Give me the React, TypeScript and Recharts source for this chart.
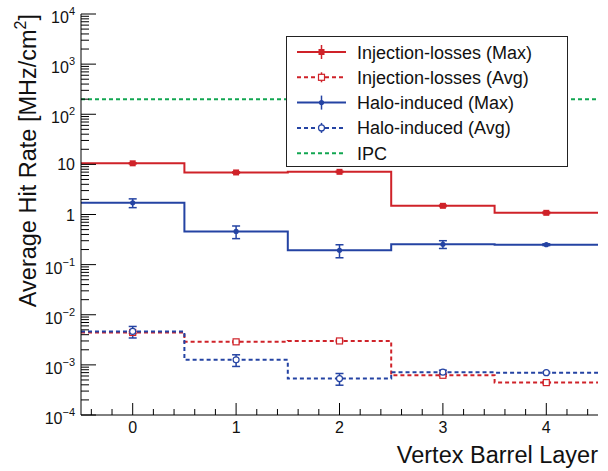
import {
  ComposedChart,
  Line,
  Scatter,
  ErrorBar,
  XAxis,
  YAxis,
  ReferenceLine,
  Legend,
} from "recharts";

const layers = [0, 1, 2, 3, 4];

const injMax = [10.5, 6.9, 7.1, 1.49, 1.08];
const injMaxErr = [0.3, 0.2, 0.2, 0.05, 0.04];
const injAvg = [0.00443, 0.00288, 0.003, 0.00062, 0.000443];
const injAvgErr = [0.0002, 0.0001, 0.0001, 0.00003, 0.00002];
const haloMax = [1.71, 0.46, 0.193, 0.255, 0.25];
const haloMaxErr = [0.34, 0.13, 0.056, 0.045, 0.01];
const haloAvg = [0.00464, 0.00126, 0.000533, 0.000714, 0.0007];
const haloAvgErr = [0.0012, 0.00033, 0.00014, 0.00007, 0.00002];
const ipcRate = 200;

const seriesNames = [
  "Injection-losses (Max)",
  "Injection-losses (Avg)",
  "Halo-induced (Max)",
  "Halo-induced (Avg)",
  "IPC",
];

const yDecades = [-4, -3, -2, -1, 0, 1, 2, 3, 4];
const xMajor = [0, 1, 2, 3, 4];

const RED = "#cf2229";
const BLUE = "#2443a3";
const GREEN = "#12a651";
const FONT = "'Liberation Sans', Arial, sans-serif";

// ticks: decades + 2..9 in between (log), and 0.2 steps on x
const yTicks: number[] = [];
yDecades.forEach((d) => {
  yTicks.push(Math.pow(10, d));
  if (d < 4) {
    for (let m = 2; m <= 9; m++) yTicks.push(Number((m * Math.pow(10, d)).toPrecision(3)));
  }
});
const xTicks: number[] = [];
for (let k = -2; k <= 22; k++) xTicks.push(Number((k * 0.2).toFixed(1)));

// histogram outline: bin edges at layer +- 0.5
const steps = (vals: number[]) => [
  ...layers.map((l, i) => ({ x: l - 0.5, v: vals[i] })),
  { x: layers[layers.length - 1] + 0.5, v: vals[vals.length - 1] },
];
const points = (vals: number[], errs: number[]) =>
  layers.map((l, i) => ({ x: l, v: vals[i], err: errs[i] }));

const isDecade = (v: number) => {
  const e = Math.log10(v);
  return Math.abs(e - Math.round(e)) < 1e-6;
};

function YTick(props: any) {
  const { x, y, payload, side } = props;
  const v = payload.value;
  const major = isDecade(v);
  const len = major ? 15 : 8;
  const dir = side === "right" ? -1 : 1;
  const e = Math.round(Math.log10(v));
  let label: any = null;
  if (side === "left" && major) {
    if (e === 0 || e === 1) {
      label = (
        <text x={x - 6} y={y + 6} textAnchor="end" fontSize={16} fontFamily={FONT} fill="#111">
          {e === 0 ? "1" : "10"}
        </text>
      );
    } else {
      label = (
        <text x={x - 6} y={y + 9} textAnchor="end" fontSize={16} fontFamily={FONT} fill="#111">
          10
          <tspan dy={-8} fontSize={11}>
            {e < 0 ? "\u2212" + -e : String(e)}
          </tspan>
        </text>
      );
    }
  }
  return (
    <g>
      <line x1={x} x2={x + dir * len} y1={y} y2={y} stroke="#000" strokeWidth={1} />
      {label}
    </g>
  );
}

function XTick(props: any) {
  const { x, y, payload, side } = props;
  const v = payload.value;
  const major = xMajor.includes(v);
  const len = major ? 12 : 6;
  const dir = side === "top" ? 1 : -1;
  return (
    <g>
      <line x1={x} x2={x} y1={y} y2={y + dir * len} stroke="#000" strokeWidth={1} />
      {side === "bottom" && major && (
        <text x={x} y={y + 18} textAnchor="middle" fontSize={16} fontFamily={FONT} fill="#111">
          {v}
        </text>
      )}
    </g>
  );
}

function YTitle(props: any) {
  const { viewBox } = props;
  const cx = 36;
  const cy = viewBox.y;
  return (
    <text
      transform={`translate(${cx},${cy}) rotate(-90)`}
      textAnchor="end"
      fontSize={23.5}
      fontFamily={FONT}
      fill="#111"
    >
      Average Hit Rate [MHz/cm
      <tspan dy={-10} fontSize={16}>2</tspan>
      <tspan dy={10}>]</tspan>
    </text>
  );
}

function XTitle(props: any) {
  const { viewBox } = props;
  return (
    <text
      x={viewBox.x + viewBox.width}
      y={463}
      textAnchor="end"
      fontSize={23.5}
      fontFamily={FONT}
      fill="#111"
    >
      Vertex Barrel Layer
    </text>
  );
}

const legendRows = [
  { color: RED, dash: undefined, marker: "fsq", err: 7 },
  { color: RED, dash: "4 3", marker: "osq", err: 5 },
  { color: BLUE, dash: undefined, marker: "fci", err: 7 },
  { color: BLUE, dash: "4 3", marker: "oci", err: 5 },
  { color: GREEN, dash: "4 3", marker: "none", err: 0 },
];

function Marker({ kind, cx, cy, color }: any) {
  if (kind === "fsq") return <rect x={cx - 3} y={cy - 3} width={6} height={6} fill={color} />;
  if (kind === "osq")
    return <rect x={cx - 3} y={cy - 3} width={6} height={6} fill="#fff" stroke={color} strokeWidth={1.2} />;
  if (kind === "fci") return <circle cx={cx} cy={cy} r={2.6} fill={color} />;
  if (kind === "oci") return <circle cx={cx} cy={cy} r={3} fill="#fff" stroke={color} strokeWidth={1.2} />;
  return null;
}

function LegendBox() {
  return (
    <svg width={282} height={131} style={{ display: "block" }}>
      <rect x={0.5} y={0.5} width={281} height={130} fill="#fff" stroke="#222" strokeWidth={1} />
      {legendRows.map((r, i) => {
        const cy = 16 + i * 25.3;
        return (
          <g key={i}>
            <line x1={11} x2={60} y1={cy} y2={cy} stroke={r.color} strokeWidth={2} strokeDasharray={r.dash} />
            {r.err > 0 && (
              <line x1={35.5} x2={35.5} y1={cy - r.err} y2={cy + r.err} stroke={r.color} strokeWidth={1.5} />
            )}
            <Marker kind={r.marker} cx={35.5} cy={cy} color={r.color} />
            <text x={71} y={cy + 6.5} fontSize={18} fontFamily={FONT} fill="#111">
              {seriesNames[i]}
            </text>
          </g>
        );
      })}
    </svg>
  );
}

const series = [
  { vals: injMax, errs: injMaxErr, color: RED, dash: undefined, marker: "fsq" },
  { vals: injAvg, errs: injAvgErr, color: RED, dash: "4 3", marker: "osq" },
  { vals: haloMax, errs: haloMaxErr, color: BLUE, dash: undefined, marker: "fci" },
  { vals: haloAvg, errs: haloAvgErr, color: BLUE, dash: "4 3", marker: "oci" },
];

export default function App() {
  return (
    <div style={{ position: "absolute", left: 0, top: 0, background: "#fff" }}>
      <ComposedChart width={608} height={471} margin={{ top: 14, right: 10, bottom: 0, left: 0 }}>
        <XAxis
          xAxisId="b"
          dataKey="x"
          type="number"
          domain={[-0.5, 4.5]}
          allowDataOverflow
          ticks={xTicks}
          interval={0}
          tickSize={0}
          tickMargin={0}
          height={56}
          stroke="#000"
          tick={(p: any) => <XTick {...p} side="bottom" />}
          label={<XTitle />}
        />
        <XAxis
          xAxisId="t"
          orientation="top"
          type="number"
          domain={[-0.5, 4.5]}
          allowDataOverflow
          ticks={xTicks}
          interval={0}
          tickSize={0}
          tickMargin={0}
          height={0}
          stroke="#000"
          tick={(p: any) => <XTick {...p} side="top" />}
        />
        <YAxis
          yAxisId="l"
          type="number"
          scale="log"
          domain={[1e-4, 1e4]}
          allowDataOverflow
          ticks={yTicks}
          interval={0}
          tickSize={0}
          tickMargin={0}
          width={81}
          stroke="#000"
          tick={(p: any) => <YTick {...p} side="left" />}
          label={<YTitle />}
        />
        <YAxis
          yAxisId="r"
          orientation="right"
          type="number"
          scale="log"
          domain={[1e-4, 1e4]}
          allowDataOverflow
          ticks={yTicks}
          interval={0}
          tickSize={0}
          tickMargin={0}
          width={0}
          stroke="#000"
          tick={(p: any) => <YTick {...p} side="right" />}
        />
        {series.map((s, i) => (
          <Line
            key={"l" + i}
            xAxisId="b"
            yAxisId="l"
            data={steps(s.vals)}
            dataKey="v"
            type="stepAfter"
            stroke={s.color}
            strokeWidth={2}
            strokeDasharray={s.dash}
            dot={false}
            activeDot={false}
            isAnimationActive={false}
          />
        ))}
        {series.map((s, i) => (
          <Scatter
            key={"s" + i}
            xAxisId="b"
            yAxisId="l"
            data={points(s.vals, s.errs)}
            dataKey="v"
            fill={s.color}
            isAnimationActive={false}
            shape={(p: any) => <Marker kind={s.marker} cx={p.cx} cy={p.cy} color={s.color} />}
          >
            <ErrorBar dataKey="err" direction="y" width={4} stroke={s.color} strokeWidth={1.5} />
          </Scatter>
        ))}
        <ReferenceLine
          xAxisId="b"
          yAxisId="l"
          y={ipcRate}
          stroke={GREEN}
          strokeWidth={2}
          strokeDasharray="4 3"
        />
        <Legend
          layout="vertical"
          align="center"
          verticalAlign="middle"
          wrapperStyle={{ left: 286, top: 36, width: 282, height: 131 }}
          content={() => <LegendBox />}
        />
      </ComposedChart>
    </div>
  );
}
